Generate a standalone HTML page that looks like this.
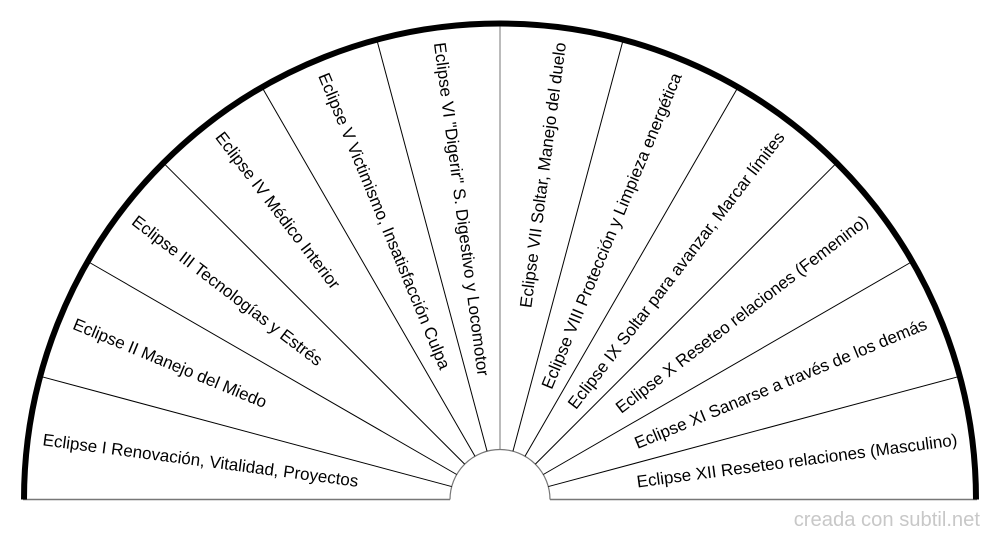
<!DOCTYPE html>
<html><head><meta charset="utf-8"><style>
html,body{margin:0;padding:0;background:#fff;width:1000px;height:540px;overflow:hidden}
svg{display:block}
text{font-family:"Liberation Sans",sans-serif;font-size:17px;fill:#000}
</style></head><body>
<svg width="1000" height="540" viewBox="0 0 1000 540" xmlns="http://www.w3.org/2000/svg">
<g transform="translate(500,499.5)">
  <line x1="-477" y1="0" x2="-50" y2="0" stroke="#777" stroke-width="1.5"/>
  <line x1="50" y1="0" x2="477" y2="0" stroke="#777" stroke-width="1.5"/>
  <path d="M -50 0 A 50 50 0 0 1 50 0" fill="none" stroke="#777" stroke-width="1.2"/>
  <g stroke="#000" stroke-width="1">
    <line x1="50" y1="0" x2="476" y2="0" transform="rotate(-15)"/>
    <line x1="50" y1="0" x2="476" y2="0" transform="rotate(-30)"/>
    <line x1="50" y1="0" x2="476" y2="0" transform="rotate(-45)"/>
    <line x1="50" y1="0" x2="476" y2="0" transform="rotate(-60)"/>
    <line x1="50" y1="0" x2="476" y2="0" transform="rotate(-75)"/>
    <line x1="50" y1="0" x2="476" y2="0" transform="rotate(-90)" stroke="#777"/>
    <line x1="50" y1="0" x2="476" y2="0" transform="rotate(-105)"/>
    <line x1="50" y1="0" x2="476" y2="0" transform="rotate(-120)"/>
    <line x1="50" y1="0" x2="476" y2="0" transform="rotate(-135)"/>
    <line x1="50" y1="0" x2="476" y2="0" transform="rotate(-150)"/>
    <line x1="50" y1="0" x2="476" y2="0" transform="rotate(-165)"/>
  </g>
  <path d="M -476 0 A 476 476 0 0 1 476 0" fill="none" stroke="#000" stroke-width="6"/>
  <text x="-461" y="6" transform="rotate(7.5)">Eclipse I Renovación, Vitalidad, Proyectos</text>
  <text x="-461" y="6" transform="rotate(22.5)">Eclipse II Manejo del Miedo</text>
  <text x="-461" y="6" transform="rotate(37.5)">Eclipse III Tecnologías y Estrés</text>
  <text x="-461" y="6" transform="rotate(52.5)">Eclipse IV Médico Interior</text>
  <text x="-461" y="6" transform="rotate(67.5)">Eclipse V Victimismo, Insatisfacción Culpa</text>
  <text x="-461" y="6" transform="rotate(82.5)">Eclipse VI "Digerir" S. Digestivo y Locomotor</text>
  <g text-anchor="end">
  <text x="461" y="6" transform="rotate(-82.5)">Eclipse VII Soltar, Manejo del duelo</text>
  <text x="461" y="6" transform="rotate(-67.5)">Eclipse VIII Protección y Limpieza energética</text>
  <text x="461" y="6" transform="rotate(-52.5)">Eclipse IX Soltar para avanzar, Marcar límites</text>
  <text x="461" y="6" transform="rotate(-37.5)">Eclipse X Reseteo relaciones (Femenino)</text>
  <text x="461" y="6" transform="rotate(-22.5)">Eclipse XI Sanarse a través de los demás</text>
  <text x="461" y="6" transform="rotate(-7.5)">Eclipse XII Reseteo relaciones (Masculino)</text>
  </g>
</g>
<text x="980" y="526" text-anchor="end" style="font-size:20.2px;fill:#c8c8c8">creada con subtil.net</text>
</svg>
</body></html>
